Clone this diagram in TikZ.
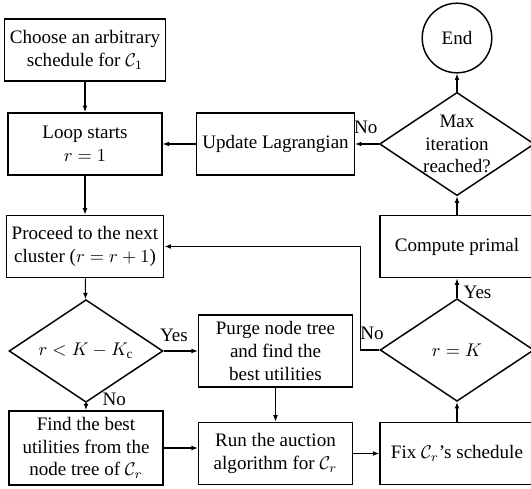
\documentclass[tikz,border=0pt]{standalone}
\usepackage{amsmath}
\usepackage{amssymb}
\usepackage{fontspec}
\setmainfont{Liberation Serif}
\usepackage{tikz}
\usetikzlibrary{arrows.meta,shapes.geometric}

\begin{document}
\begin{tikzpicture}[x=0.546pt,y=-0.546pt,
    every node/.style={font=\fontsize{10.4pt}{12.4pt}\selectfont},
    box/.style={draw, line width=0.8pt, rectangle, align=center, inner sep=3pt,
        minimum width=84pt, minimum height=34pt},
    decision/.style={draw, line width=0.8pt, diamond, aspect=1.5, align=center,
        inner sep=0pt, minimum width=84pt, minimum height=56pt},
    term/.style={draw, line width=0.8pt, circle, minimum size=38pt},
    flow/.style={line width=0.6pt, -{Latex[length=3.5pt,width=2.6pt]}}]
    \useasboundingbox (0,0) rectangle (531,489);

    % left column
    \node[box] (choose) at (85,50) {Choose an arbitrary\\schedule for $\mathcal{C}_1$};
    \node[box] (loop) at (85,144) {Loop starts\\$r=1$};
    \node[box] (proceed) at (85,246.5) {Proceed to the next\\cluster ($r=r+1$)};
    \node[decision] (cmp) at (86,351) {$r<K-K_{\mathrm{c}}$};
    \node[box, minimum height=40.4pt] (best) at (86,448) {Find the best\\utilities from the\\node tree of $\mathcal{C}_r$};

    % middle column
    \node[box] (update) at (275.5,144) {Update Lagrangian};
    \node[box, minimum height=39.3pt] (purge) at (275.5,351) {Purge node tree\\and find the\\best utilities};
    \node[box] (auction) at (275.5,453.5) {Run the auction\\algorithm for $\mathcal{C}_r$};

    % right column
    \node[term] (end) at (457,38) {End};
    \node[decision] (maxit) at (457,144) {Max\\iteration\\reached?};
    \node[box] (primal) at (457,246.5) {Compute primal};
    \node[decision] (last) at (457,350) {$r=K$};
    \node[box] (fix) at (457,453.5) {Fix $\mathcal{C}_r$'s schedule};

    \draw[flow] (choose) -- (loop);
    \draw[flow] (loop) -- (proceed);
    \draw[flow] (proceed) -- (cmp);
    \draw[flow] (cmp.east) -- node[pos=0.3, above, yshift=1.5pt] {Yes} (purge.west);
    \draw[flow] (cmp.south) -- node[pos=0, anchor=west, xshift=5.5pt, yshift=2pt] {No} (best.north);
    \draw[flow] (best.east) -- (best.east -| auction.west);
    \draw[flow] (purge) -- (auction);
    \draw[flow] (auction) -- (fix);
    \draw[flow] (fix) -- (last);
    \draw[flow] (last.north) -- node[pos=0, anchor=west, yshift=3pt] {Yes} (primal.south);
    \draw[flow] (primal) -- (maxit);
    \draw[flow] (maxit) -- (end);
    \draw[flow] (maxit.west) -- node[pos=0.55, above, yshift=2pt] {No} (update.east);
    \draw[flow] (update) -- (loop);
    \draw[flow] (last.west) -- node[pos=0, above, xshift=-4pt, yshift=2pt] {No} ++(-19,0) |- (proceed.east);
\end{tikzpicture}
\end{document}
